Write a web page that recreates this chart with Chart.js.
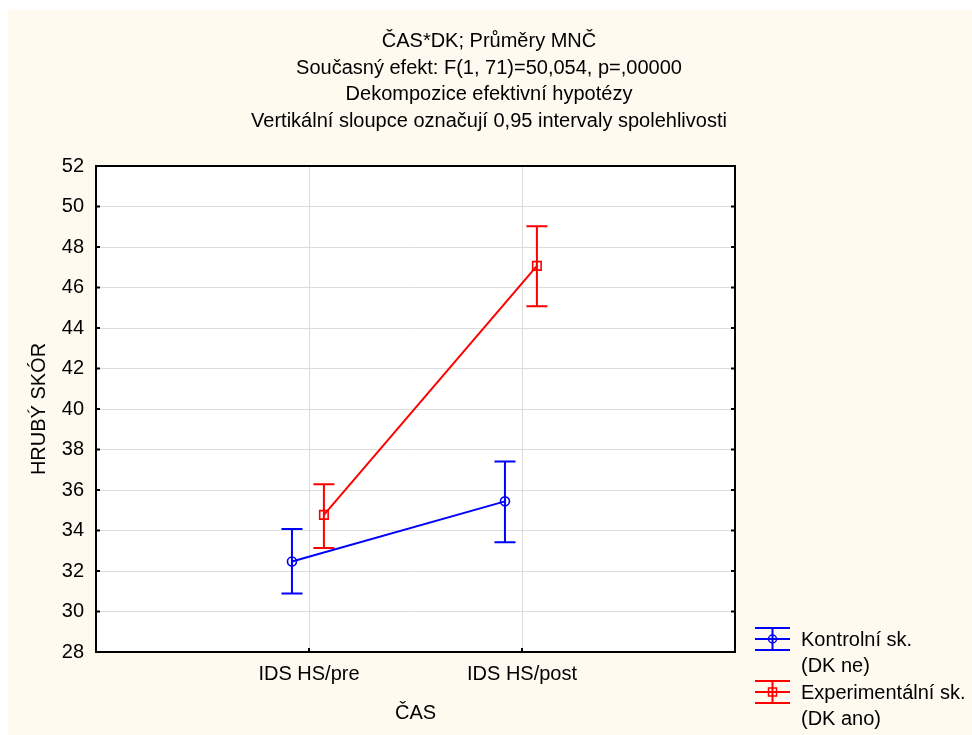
<!DOCTYPE html>
<html><head><meta charset="utf-8">
<script src="https://cdn.jsdelivr.net/npm/chart.js@4.4.0/dist/chart.umd.min.js"></script>
<style>html,body{margin:0;padding:0;background:#fff;}#wrap{width:972px;height:735px;}</style>
</head><body><div id="wrap"><canvas id="c" width="972" height="735"></canvas></div>
<script>
const categories = ['IDS HS/pre', 'IDS HS/post'];
const controlName = ['Kontrolní sk.', '(DK ne)'];
const expName = ['Experimentální sk.', '(DK ano)'];
const controlMeans = [32.47, 35.44];
const controlLow = [30.89, 33.42];
const controlHigh = [34.08, 37.41];
const expMeans = [34.77, 47.07];
const expLow = [33.14, 45.07];
const expHigh = [36.29, 49.03];
const yMin = 28, yMax = 52, yStep = 2;
const titleLines = ['ČAS*DK; Průměry MNČ', 'Současný efekt: F(1, 71)=50,054, p=,00000', 'Dekompozice efektivní hypotézy', 'Vertikální sloupce označují 0,95 intervaly spolehlivosti'];
const yTitle = 'HRUBÝ SKÓR';
const xTitle = 'ČAS';

const FONT = '"Liberation Sans", Arial, sans-serif';
const font20 = {family: FONT, size: 20};
const BLUE = '#0000ff', RED = '#ff0000', CREAM = '#fefaf0', GRID = '#dcdcdc';
const offBlue = -0.08, offRed = 0.07;

function pts(means, off) { return means.map((v, i) => ({x: i + 1 + off, y: v})); }

const datasets = [
  {label: controlName.join(' '), data: pts(controlMeans, offBlue), errLow: controlLow, errHigh: controlHigh,
   borderColor: BLUE, borderWidth: 2, pointStyle: 'circle', pointRadius: 4.5, pointBorderWidth: 1.6,
   pointBorderColor: BLUE, pointBackgroundColor: 'rgba(0,0,0,0)', tension: 0, legendName: controlName},
  {label: expName.join(' '), data: pts(expMeans, offRed), errLow: expLow, errHigh: expHigh,
   borderColor: RED, borderWidth: 2, pointStyle: 'rect', pointRadius: 6, pointBorderWidth: 1.6,
   pointBorderColor: RED, pointBackgroundColor: 'rgba(0,0,0,0)', tension: 0, legendName: expName}
];

const deco = {
  id: 'deco',
  beforeDraw(chart) {
    const ctx = chart.ctx, a = chart.chartArea;
    ctx.save();
    ctx.fillStyle = '#fff'; ctx.fillRect(0, 0, chart.width, chart.height);
    ctx.fillStyle = CREAM; ctx.fillRect(8, 10, chart.width - 8, chart.height - 10);
    ctx.fillStyle = '#fff'; ctx.fillRect(a.left, a.top, a.right - a.left, a.bottom - a.top);
    ctx.restore();
  },
  beforeDatasetsDraw(chart) {
    const ctx = chart.ctx, ys = chart.scales.y;
    ctx.save();
    chart.data.datasets.forEach((ds, di) => {
      const meta = chart.getDatasetMeta(di);
      ctx.strokeStyle = ds.borderColor; ctx.lineWidth = 2;
      meta.data.forEach((p, i) => {
        const yl = ys.getPixelForValue(ds.errLow[i]), yh = ys.getPixelForValue(ds.errHigh[i]);
        ctx.beginPath();
        ctx.moveTo(p.x, yl); ctx.lineTo(p.x, yh);
        ctx.moveTo(p.x - 10.5, yl); ctx.lineTo(p.x + 10.5, yl);
        ctx.moveTo(p.x - 10.5, yh); ctx.lineTo(p.x + 10.5, yh);
        ctx.stroke();
      });
    });
    ctx.restore();
  },
  afterDraw(chart) {
    const ctx = chart.ctx, a = chart.chartArea, xs = chart.scales.x, ys = chart.scales.y;
    ctx.save();
    ctx.strokeStyle = '#000'; ctx.lineWidth = 2;
    ctx.strokeRect(a.left, a.top, a.right - a.left, a.bottom - a.top);
    ctx.lineWidth = 2; ctx.beginPath();
    ys.ticks.forEach(t => {
      const y = ys.getPixelForValue(t.value);
      ctx.moveTo(a.left, y); ctx.lineTo(a.left + 4, y);
      ctx.moveTo(a.right, y); ctx.lineTo(a.right - 4, y);
    });
    xs.ticks.forEach(t => {
      const x = xs.getPixelForValue(t.value);
      ctx.moveTo(x, a.bottom); ctx.lineTo(x, a.bottom - 4);
    });
    ctx.stroke();
    ctx.fillStyle = '#000'; ctx.font = '20px ' + FONT; ctx.textAlign = 'center'; ctx.textBaseline = 'alphabetic';
    titleLines.forEach((t, i) => ctx.fillText(t, 489, 47 + i * 26.7));
    const legendY = [639, 692];
    chart.data.datasets.forEach((ds, di) => {
      const cy = legendY[di], x0 = 755, x1 = 790, cx = (x0 + x1) / 2;
      ctx.strokeStyle = ds.borderColor; ctx.lineWidth = 2;
      ctx.beginPath();
      [-11, 0, 11].forEach(d => { ctx.moveTo(x0, cy + d); ctx.lineTo(x1, cy + d); });
      ctx.moveTo(cx, cy - 11); ctx.lineTo(cx, cy + 11);
      ctx.stroke();
      ctx.lineWidth = 1.5;
      ctx.beginPath();
      if (ds.pointStyle === 'circle') ctx.arc(cx, cy, 4, 0, Math.PI * 2);
      else ctx.rect(cx - 4, cy - 4, 8, 8);
      ctx.stroke();
      ctx.fillStyle = '#000'; ctx.textAlign = 'left';
      ctx.fillText(ds.legendName[0], 801, cy + 7);
      ctx.fillText(ds.legendName[1], 801, cy + 33);
    });
    ctx.restore();
  }
};

new Chart(document.getElementById('c'), {
  type: 'line',
  data: {datasets},
  options: {
    responsive: false, devicePixelRatio: 1, animation: false,
    layout: {padding: {top: 166, left: 0, right: 237, bottom: 0}},
    plugins: {legend: {display: false}, title: {display: false}, tooltip: {enabled: false}},
    scales: {
      x: {
        type: 'linear', min: 0, max: categories.length + 1,
        afterBuildTicks: s => { s.ticks = categories.map((c, i) => ({value: i + 1})); },
        afterFit: s => { s.height = 83; },
        ticks: {callback: v => categories[v - 1] ?? '', font: font20, color: '#000', padding: 10, maxRotation: 0, autoSkip: false},
        grid: {color: GRID, lineWidth: 1, drawTicks: false},
        border: {display: false},
        title: {display: true, text: xTitle, font: font20, color: '#000', padding: {top: 0, bottom: 10}}
      },
      y: {
        min: yMin, max: yMax,
        afterFit: s => { s.width = 96; },
        ticks: {stepSize: yStep, font: font20, color: '#000', padding: 12},
        grid: {color: GRID, lineWidth: 1, drawTicks: false},
        border: {display: false},
        title: {display: true, text: yTitle, font: font20, color: '#000', padding: {top: 27, bottom: 0}}
      }
    }
  },
  plugins: [deco]
});
</script></body></html>
